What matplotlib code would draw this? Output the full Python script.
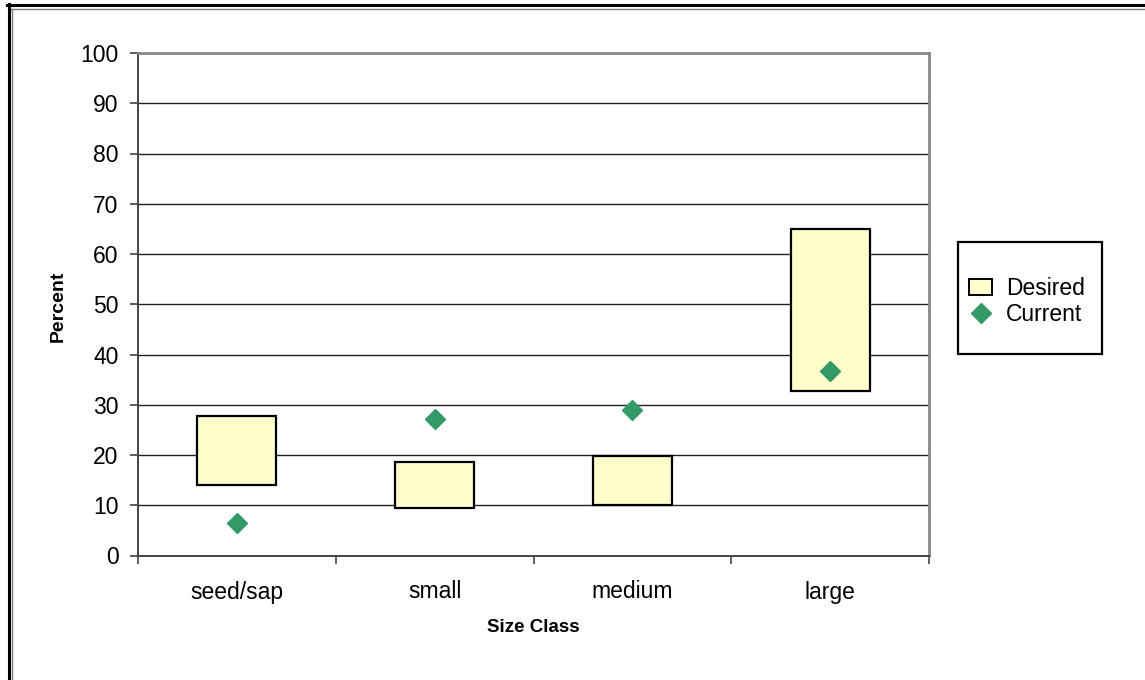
import matplotlib
matplotlib.use("Agg")
import matplotlib.pyplot as plt
from matplotlib.patches import Rectangle
from matplotlib.lines import Line2D

plt.rcParams['font.family'] = ['Liberation Sans', 'DejaVu Sans']

# size classes with desired range (low/high) and current percent
size_classes = ["seed/sap", "small", "medium", "large"]
desired_low = [14.1, 9.4, 10.0, 32.7]
desired_high = [27.8, 18.6, 19.9, 65.0]
current = [6.5, 27.1, 28.9, 36.8]
y_ticks = [0, 10, 20, 30, 40, 50, 60, 70, 80, 90, 100]

W, H = 1145, 680
fig = plt.figure(figsize=(W / 100, H / 100), dpi=100)
ax = fig.add_axes([138 / W, 1 - 555.5 / H, (929 - 138) / W, (555.5 - 53) / H])

x = list(range(len(size_classes)))
heights = [hi - lo for lo, hi in zip(desired_low, desired_high)]
ax.bar(x, heights, bottom=desired_low, width=0.4, color="#FFFFCC",
       edgecolor="black", linewidth=1.6, zorder=3)
ax.plot(x, current, linestyle="none", marker="D", markersize=10,
        color="#339966", markeredgecolor="#339966", zorder=4)

ax.set_xlim(-0.5, len(size_classes) - 0.5)
ax.set_ylim(0, 100)
ax.set_yticks(y_ticks)
ax.yaxis.grid(True, color="#222222", linewidth=1.0, zorder=0)
ax.set_axisbelow(True)

# category labels centred, tick marks on the boundaries
ax.set_xticks(x)
ax.set_xticklabels(size_classes)
ax.set_xticks([i - 0.5 for i in range(len(size_classes) + 1)], minor=True)
ax.tick_params(axis="x", which="major", length=0, pad=18, labelsize=16.5)
ax.tick_params(axis="x", which="minor", length=6, width=1.2, color="#444444",
               direction="out")
ax.tick_params(axis="y", length=6, width=1.2, color="#444444", pad=8,
               labelsize=16.5)

for side in ["left", "bottom"]:
    ax.spines[side].set_color("#444444")
    ax.spines[side].set_linewidth(1.4)
for side in ["top", "right"]:
    ax.spines[side].set_color("#888888")
    ax.spines[side].set_linewidth(2.0)

ax.set_xlabel("Size Class", fontsize=13.5, fontweight="bold")
ax.set_ylabel("Percent", fontsize=14, fontweight="bold")
ax.xaxis.set_label_coords(0.5, (555.5 - 627) / 502.5, transform=ax.transAxes)
ax.yaxis.set_label_coords((58 - 138) / 791, 0.495, transform=ax.transAxes)
ax.xaxis.label.set_va("center")
ax.yaxis.label.set_va("center")

# legend box
fig.patches.append(Rectangle((958 / W, 1 - 354 / H), 144 / W, 112 / H,
                             transform=fig.transFigure, facecolor="white",
                             edgecolor="black", linewidth=1.6))
handles = [
    Rectangle((0, 0), 1, 1, facecolor="#FFFFCC", edgecolor="black", linewidth=1.4),
    Line2D([], [], linestyle="none", marker="D", markersize=10, color="#339966"),
]
fig.legend(handles, ["Desired", "Current"], loc="center left",
           bbox_to_anchor=(958 / W, 1 - 301.5 / H), frameon=False,
           fontsize=16.5, handlelength=1.0, handletextpad=0.6,
           labelspacing=0.15, borderpad=0)

# double border around the chart
fig.add_artist(Line2D([7 / W, 1], [1 - 5 / H, 1 - 5 / H], transform=fig.transFigure,
                      color="black", linewidth=2.2))
fig.add_artist(Line2D([11 / W, 1], [1 - 8.5 / H, 1 - 8.5 / H], transform=fig.transFigure,
                      color="#777777", linewidth=1.0))
fig.add_artist(Line2D([8.5 / W, 8.5 / W], [0, 1 - 4 / H], transform=fig.transFigure,
                      color="black", linewidth=2.2))
fig.add_artist(Line2D([12 / W, 12 / W], [0, 1 - 8.5 / H], transform=fig.transFigure,
                      color="#777777", linewidth=1.0))

fig.savefig("out.png", dpi=100)
